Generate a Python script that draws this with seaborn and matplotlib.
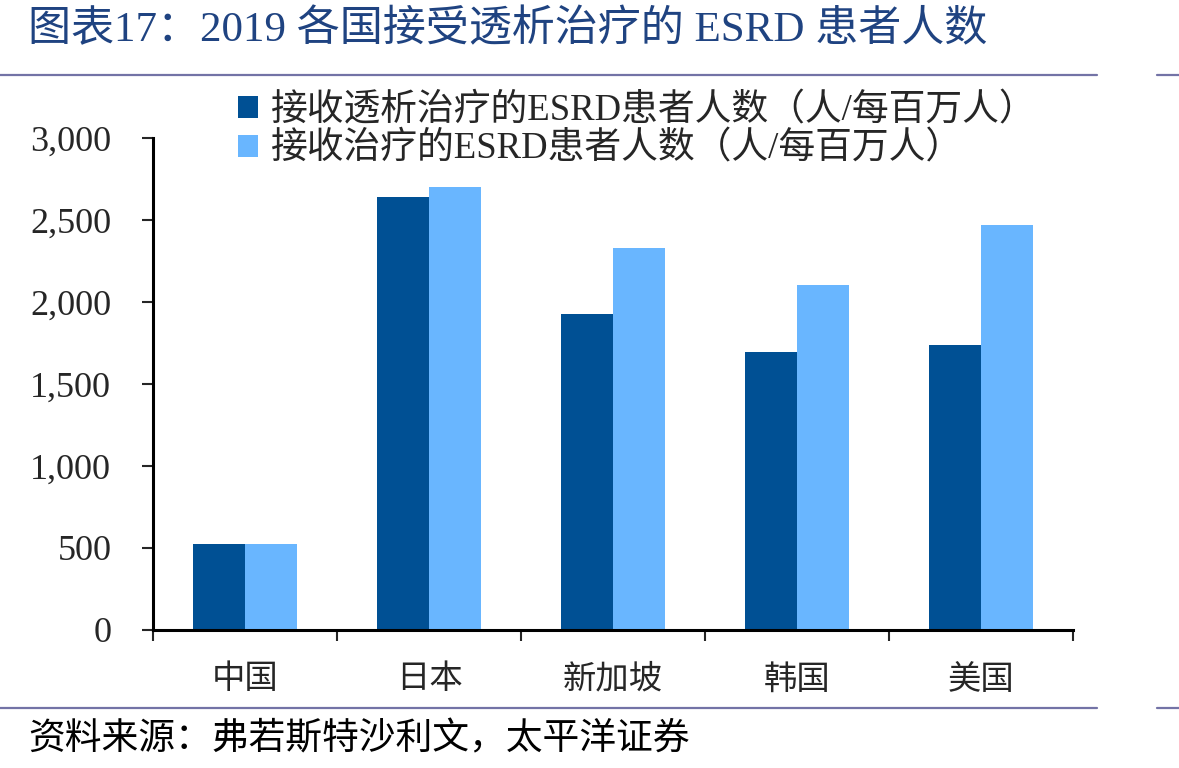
import numpy as np
import pandas as pd
import matplotlib
matplotlib.use("Agg")
import matplotlib.pyplot as plt
from matplotlib.lines import Line2D
from matplotlib.ticker import FuncFormatter
import seaborn as sns

countries = ["中国", "日本", "新加坡", "韩国", "美国"]
dialysis = [525, 2640, 1925, 1695, 1740]
treated = [525, 2700, 2330, 2105, 2470]
series_names = ["接收透析治疗的ESRD患者人数（人/每百万人）",
                "接收治疗的ESRD患者人数（人/每百万人）"]
colors = ["#005094", "#69B6FF"]

df = pd.DataFrame({
    "country": countries * 2,
    "value": dialysis + treated,
    "series": [series_names[0]] * len(countries) + [series_names[1]] * len(countries),
})

sns.set_style("white")
plt.rcParams["font.family"] = ["Liberation Serif", "Noto Sans CJK SC", "DejaVu Sans"]

fig = plt.figure(figsize=(11.79, 7.68), dpi=100)
ax = fig.add_axes([153 / 1179, 1 - 630 / 768, (1073 - 153) / 1179, (630 - 138) / 768])

sns.barplot(data=df, x="country", y="value", hue="series", palette=colors,
            width=0.57, saturation=1, linewidth=0, ax=ax, legend=True)

ax.set_xlim(-0.5, 4.5)
ax.set_ylim(0, 3000)
ax.set_yticks(np.arange(0, 3001, 500))
ax.yaxis.set_major_formatter(FuncFormatter(lambda v, p: f"{int(v):,}"))
ax.set_xticks(np.arange(-0.5, 4.6, 1), minor=False)
ax.set_xticklabels([])
ax.set_xticks(np.arange(0, 5), minor=True)
ax.set_xticklabels(countries, minor=True)
ax.tick_params(axis="x", which="minor", length=0, pad=25, labelsize=24)
ax.tick_params(axis="x", which="major", direction="out", length=8, width=1.5, bottom=True)
ax.tick_params(axis="y", direction="out", length=8, width=1.5, left=True, pad=22, labelsize=26)
ax.set_xlabel("")
ax.set_ylabel("")
for s in ["top", "right"]:
    ax.spines[s].set_visible(False)
for s in ["left", "bottom"]:
    ax.spines[s].set_linewidth(2.2)
    ax.spines[s].set_color("black")

handles, labels = ax.get_legend_handles_labels()
ax.legend_.remove()
fig.legend(handles, labels, loc="upper left", bbox_to_anchor=(238 / 1179, 1 - 93 / 768),
           frameon=False, fontsize=26.5, handlelength=0.55, handleheight=0.55,
           handletextpad=0.35, labelspacing=0.1, borderpad=0, borderaxespad=0)

fig.text(28 / 1179, 1 - 30 / 768, "图表17：2019 各国接受透析治疗的 ESRD 患者人数",
         fontsize=31, color="#1F4381", va="center", ha="left")
fig.text(28 / 1179, 1 - 740 / 768, "资料来源：弗若斯特沙利文，太平洋证券",
         fontsize=26.5, color="black", va="center", ha="left", style="italic")

line_color = "#7373A6"
for y in [75, 708]:
    yy = 1 - y / 768
    fig.add_artist(Line2D([0, 1097 / 1179], [yy, yy], color=line_color, lw=1.6))
    fig.add_artist(Line2D([1157 / 1179, 1], [yy, yy], color=line_color, lw=1.6))

fig.savefig("out.png", dpi=100)
